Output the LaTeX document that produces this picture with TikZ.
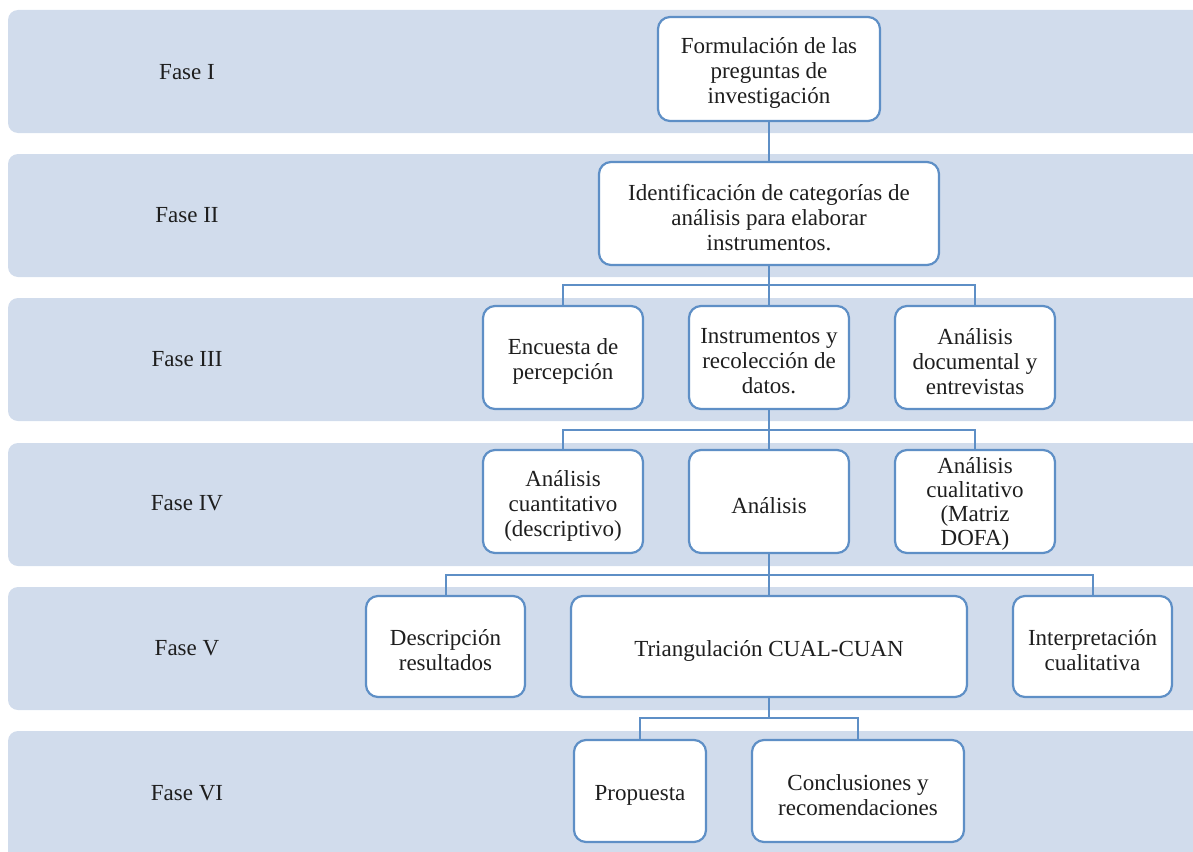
\documentclass[tikz,border=0pt]{standalone}
\usepackage{fontspec}
\setmainfont{Liberation Serif}
\definecolor{bandfill}{RGB}{209,220,236}
\definecolor{boxline}{RGB}{94,143,198}
\definecolor{txt}{RGB}{30,30,30}
\begin{document}
\begin{tikzpicture}[x=1pt,y=-1pt,
  phase/.style={text=txt,font=\fontsize{23}{25}\selectfont},
  boxtext/.style={align=center,text=txt,font=\fontsize{23}{25}\selectfont,inner sep=0pt},
  stepbox/.style={draw=boxline,line width=2.2pt,fill=white,rounded corners=12pt,inner sep=0pt,
    label={[boxtext,yshift=-4pt]center:{#1}}},
  tightbox/.style={draw=boxline,line width=2.2pt,fill=white,rounded corners=12pt,inner sep=0pt,
    label={[boxtext,font=\fontsize{23}{24}\selectfont,yshift=-2pt]center:{#1}}},
  link/.style={draw=boxline,line width=2pt}]
\useasboundingbox (0,0) rectangle (1193,851);
\clip (0,0) rectangle (1193,851);

% phase bands
\foreach \t/\b in {10/133,154/277,298/421,443/566,587/710,731/870}{
  \fill[bandfill,rounded corners=10pt] (8,\t) rectangle (1215,\b);
}
\node[phase] (p1) at (187,72) {Fase I};
\node[phase] (p2) at (187,215) {Fase II};
\node[phase] (p3) at (187,359) {Fase III};
\node[phase] (p4) at (187,503) {Fase IV};
\node[phase] (p5) at (187,648) {Fase V};
\node[phase] (p6) at (187,793) {Fase VI};

% phase I
\node[stepbox={Formulación de las\\preguntas de\\investigación},
  minimum width=222pt,minimum height=104pt] (f1) at (769,69) {};
% phase II
\node[stepbox={Identificación de categorías de\\análisis para elaborar\\instrumentos.},
  minimum width=340pt,minimum height=103pt] (f2) at (769,213.5) {};
% phase III
\node[stepbox={Encuesta de\\percepción},
  minimum width=160pt,minimum height=103pt] (enc) at (563,357.5) {};
\node[stepbox={Instrumentos y\\recolección de\\datos.},
  minimum width=160pt,minimum height=103pt] (ins) at (769,357.5) {};
\node[stepbox={Análisis\\documental y\\entrevistas},
  minimum width=160pt,minimum height=103pt] (doc) at (975,357.5) {};
% phase IV
\node[stepbox={Análisis\\cuantitativo\\(descriptivo)},
  minimum width=160pt,minimum height=103pt] (cuan) at (563,501.5) {};
\node[stepbox={Análisis},
  minimum width=160pt,minimum height=103pt] (ana) at (769,501.5) {};
\node[tightbox={Análisis\\cualitativo\\(Matriz\\DOFA)},
  minimum width=160pt,minimum height=103pt] (cual) at (975,501.5) {};
% phase V
\node[stepbox={Descripción\\resultados},
  minimum width=159pt,minimum height=101pt] (desc) at (445.5,646.5) {};
\node[stepbox={Triangulación CUAL-CUAN},
  minimum width=396pt,minimum height=101pt] (tri) at (769,646.5) {};
\node[stepbox={Interpretación\\cualitativa},
  minimum width=159pt,minimum height=101pt] (int) at (1092.5,646.5) {};
% phase VI
\node[stepbox={Propuesta},
  minimum width=132pt,minimum height=102pt] (prop) at (640,791) {};
\node[stepbox={Conclusiones y\\recomendaciones},
  minimum width=212pt,minimum height=102pt] (conc) at (858,791) {};

% connectors
\draw[link] (f1.south) -- (f2.north);
\coordinate (j2) at (769,285);
\draw[link] (f2.south) -- (j2);
\draw[link] (enc.north) |- (j2) -| (doc.north);
\draw[link] (j2) -- (ins.north);
\coordinate (j3) at (769,430);
\draw[link] (ins.south) -- (j3);
\draw[link] (cuan.north) |- (j3) -| (cual.north);
\draw[link] (j3) -- (ana.north);
\coordinate (j4) at (769,575);
\draw[link] (ana.south) -- (j4);
\draw[link] (desc.north) |- (j4) -| (int.north);
\draw[link] (j4) -- (tri.north);
\coordinate (j5) at (769,718);
\draw[link] (tri.south) -- (j5);
\draw[link] (prop.north) |- (j5) -| (conc.north);
\end{tikzpicture}
\end{document}
